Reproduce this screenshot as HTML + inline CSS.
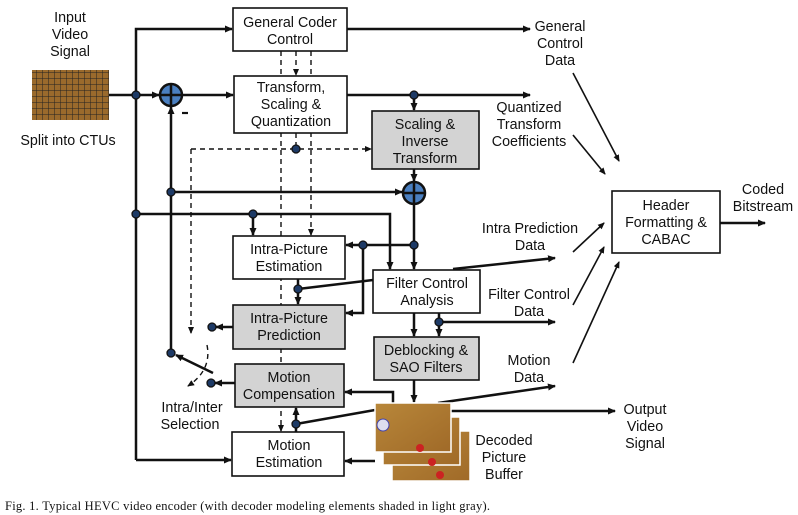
<!DOCTYPE html>
<html><head><meta charset="utf-8"><style>
body{margin:0;background:#fff;}
svg{display:block;}
text{font-family:"Liberation Sans",sans-serif;font-size:14.3px;fill:#111;}
</style></head><body>
<svg width="798" height="515" viewBox="0 0 798 515" xmlns="http://www.w3.org/2000/svg">
<defs>
<marker id="a" markerWidth="8" markerHeight="8" refX="7" refY="4" orient="auto" markerUnits="userSpaceOnUse"><path d="M0,0.5 L8,4 L0,7.5z" fill="#111"/></marker>
<marker id="s" markerWidth="7" markerHeight="7" refX="6" refY="3.5" orient="auto" markerUnits="userSpaceOnUse"><path d="M0,0.5 L7,3.5 L0,6.5z" fill="#111"/></marker>
<pattern id="grid" width="6" height="6" patternUnits="userSpaceOnUse"><rect width="6" height="6" fill="#9a6a2c"/><path d="M0,0H6M0,0V6" stroke="#222" stroke-width="1"/></pattern>
<linearGradient id="court" x1="0" y1="0" x2="1" y2="1"><stop offset="0" stop-color="#b8873a"/><stop offset="1" stop-color="#a06a28"/></linearGradient>
</defs>
<g stroke="#111" fill="none" stroke-width="2.5">
<line x1="109" y1="95" x2="159" y2="95" marker-end="url(#a)"/>
<line x1="182" y1="95" x2="233" y2="95" marker-end="url(#a)"/>
<polyline points="136,460 136,29 232,29" marker-end="url(#a)"/>
<line x1="136" y1="460" x2="231" y2="460" marker-end="url(#a)"/>
<polyline points="136,214 390,214 390,269" marker-end="url(#a)"/>
<line x1="253" y1="214" x2="253" y2="235" marker-end="url(#a)"/>
<line x1="347" y1="29" x2="530" y2="29" marker-end="url(#a)"/>
<line x1="347" y1="95" x2="530" y2="95" marker-end="url(#a)"/>
<line x1="414" y1="95" x2="414" y2="110" marker-end="url(#a)"/>
<line x1="171" y1="353" x2="171" y2="107" marker-end="url(#a)"/>
<line x1="171" y1="192" x2="402" y2="192" marker-end="url(#a)"/>
<line x1="414" y1="169" x2="414" y2="181" marker-end="url(#a)"/>
<line x1="414" y1="205" x2="414" y2="269" marker-end="url(#a)"/>
<line x1="414" y1="245" x2="346" y2="245" marker-end="url(#a)"/>
<polyline points="363,245 363,313 346,313" marker-end="url(#a)"/>
<line x1="373" y1="280" x2="298" y2="289"/>
<line x1="298" y1="279" x2="298" y2="304" marker-end="url(#a)"/>
<line x1="453" y1="269" x2="555" y2="258" marker-end="url(#a)"/>
<line x1="414" y1="313" x2="414" y2="336" marker-end="url(#a)"/>
<line x1="439" y1="313" x2="439" y2="336" marker-end="url(#a)"/>
<line x1="439" y1="322" x2="555" y2="322" marker-end="url(#a)"/>
<line x1="414" y1="380" x2="414" y2="402" marker-end="url(#a)"/>
<line x1="438" y1="403" x2="555" y2="386" marker-end="url(#a)"/>
<line x1="451" y1="411" x2="615" y2="411" marker-end="url(#a)"/>
<polyline points="393,403 393,392 345,392" marker-end="url(#a)"/>
<line x1="375" y1="461" x2="345" y2="461" marker-end="url(#a)"/>
<line x1="375" y1="410" x2="296" y2="424"/>
<line x1="296" y1="432" x2="296" y2="408" marker-end="url(#a)"/>
<line x1="233" y1="327" x2="216" y2="327" marker-end="url(#a)"/>
<line x1="235" y1="383" x2="215" y2="383" marker-end="url(#a)"/>
<line x1="213" y1="373" x2="176" y2="355" marker-end="url(#a)"/>
<g stroke-width="1.6">
<line x1="573" y1="73" x2="619" y2="161" marker-end="url(#s)"/>
<line x1="573" y1="135" x2="605" y2="174" marker-end="url(#s)"/>
<line x1="573" y1="252" x2="604" y2="223" marker-end="url(#s)"/>
<line x1="573" y1="305" x2="604" y2="247" marker-end="url(#s)"/>
<line x1="573" y1="363" x2="619" y2="262" marker-end="url(#s)"/>
</g>
<line x1="720" y1="223" x2="765" y2="223" marker-end="url(#a)"/>
</g>
<g stroke="#111" fill="none" stroke-width="1.4" stroke-dasharray="5,4">
<line x1="281" y1="51" x2="281" y2="431" marker-end="url(#s)"/>
<line x1="296" y1="51" x2="296" y2="75" marker-end="url(#s)"/>
<line x1="311" y1="51" x2="311" y2="235" marker-end="url(#s)"/>
<line x1="296" y1="133" x2="296" y2="149"/>
<line x1="191" y1="149" x2="371" y2="149" marker-end="url(#s)"/>
<line x1="191" y1="149" x2="191" y2="333" marker-end="url(#s)"/>
<path d="M207,345 Q212,370 188,386" marker-end="url(#s)"/>
</g>
<g stroke="#111" stroke-width="1.6">
<rect x="233" y="8" width="114" height="43" fill="#fff"/>
<rect x="234" y="76" width="113" height="57" fill="#fff"/>
<rect x="372" y="111" width="107" height="58" fill="#d3d3d3"/>
<rect x="233" y="236" width="112" height="43" fill="#fff"/>
<rect x="373" y="270" width="107" height="43" fill="#fff"/>
<rect x="233" y="305" width="112" height="44" fill="#d3d3d3"/>
<rect x="374" y="337" width="105" height="43" fill="#d3d3d3"/>
<rect x="235" y="364" width="109" height="43" fill="#d3d3d3"/>
<rect x="232" y="432" width="112" height="44" fill="#fff"/>
<rect x="612" y="191" width="108" height="62" fill="#fff"/>
</g>
<g stroke="#111" stroke-width="2.5">
<circle cx="171" cy="95" r="11" fill="#4a7fc0"/>
<line x1="160" y1="95" x2="182" y2="95"/><line x1="171" y1="84" x2="171" y2="106"/>
<circle cx="414" cy="193" r="11" fill="#4a7fc0"/>
<line x1="403" y1="193" x2="425" y2="193"/><line x1="414" y1="182" x2="414" y2="204"/>
</g>
<line x1="182" y1="113" x2="188" y2="113" stroke="#111" stroke-width="2.2"/>
<g fill="#1d3a66" stroke="#111" stroke-width="1.3">
<circle cx="136" cy="95" r="4"/><circle cx="136" cy="214" r="4"/><circle cx="171" cy="192" r="4"/>
<circle cx="253" cy="214" r="4"/><circle cx="296" cy="149" r="4"/><circle cx="414" cy="95" r="4"/>
<circle cx="414" cy="245" r="4"/><circle cx="363" cy="245" r="4"/><circle cx="298" cy="289" r="4"/>
<circle cx="439" cy="322" r="4"/><circle cx="296" cy="424" r="4"/><circle cx="212" cy="327" r="4"/>
<circle cx="211" cy="383" r="4"/><circle cx="171" cy="353" r="4"/>
</g>
<rect x="32" y="70" width="77" height="50" fill="url(#grid)"/>
<g stroke="#fff" stroke-width="1.5">
<rect x="392" y="431" width="78" height="50" fill="url(#court)"/>
<rect x="383" y="417" width="77" height="48" fill="url(#court)"/>
<rect x="375" y="403" width="76" height="49" fill="url(#court)"/>
</g>
<circle cx="383" cy="425" r="6" fill="#dde" stroke="#44a" stroke-width="1"/>
<circle cx="420" cy="448" r="4" fill="#c22"/><circle cx="432" cy="462" r="4" fill="#c22"/><circle cx="440" cy="475" r="4" fill="#c22"/>
<g text-anchor="middle">
<text x="70" y="22">Input</text><text x="70" y="39">Video</text><text x="70" y="56">Signal</text>
<text x="68" y="145">Split into CTUs</text>
<text x="290" y="27">General Coder</text><text x="290" y="44">Control</text>
<text x="291" y="92">Transform,</text><text x="291" y="109">Scaling &amp;</text><text x="291" y="126">Quantization</text>
<text x="425" y="129">Scaling &amp;</text><text x="425" y="146">Inverse</text><text x="425" y="163">Transform</text>
<text x="289" y="254">Intra-Picture</text><text x="289" y="271">Estimation</text>
<text x="427" y="288">Filter Control</text><text x="427" y="305">Analysis</text>
<text x="289" y="323">Intra-Picture</text><text x="289" y="340">Prediction</text>
<text x="426" y="355">Deblocking &amp;</text><text x="426" y="372">SAO Filters</text>
<text x="289" y="382">Motion</text><text x="289" y="399">Compensation</text>
<text x="289" y="450">Motion</text><text x="289" y="467">Estimation</text>
<text x="666" y="210">Header</text><text x="666" y="227">Formatting &amp;</text><text x="666" y="244">CABAC</text>
<text x="560" y="31">General</text><text x="560" y="48">Control</text><text x="560" y="65">Data</text>
<text x="529" y="112">Quantized</text><text x="529" y="129">Transform</text><text x="529" y="146">Coefficients</text>
<text x="530" y="233">Intra Prediction</text><text x="530" y="250">Data</text>
<text x="529" y="299">Filter Control</text><text x="529" y="316">Data</text>
<text x="529" y="365">Motion</text><text x="529" y="382">Data</text>
<text x="763" y="194">Coded</text><text x="763" y="211">Bitstream</text>
<text x="645" y="414">Output</text><text x="645" y="431">Video</text><text x="645" y="448">Signal</text>
<text x="504" y="445">Decoded</text><text x="504" y="462">Picture</text><text x="504" y="479">Buffer</text>
<text x="192" y="412">Intra/Inter</text><text x="190" y="429">Selection</text>
</g>
<text x="5" y="510" textLength="485" style="font-family:'Liberation Serif',serif;font-size:12.5px">Fig. 1.   Typical HEVC video encoder (with decoder modeling elements shaded in light gray).</text>
</svg>
</body></html>
